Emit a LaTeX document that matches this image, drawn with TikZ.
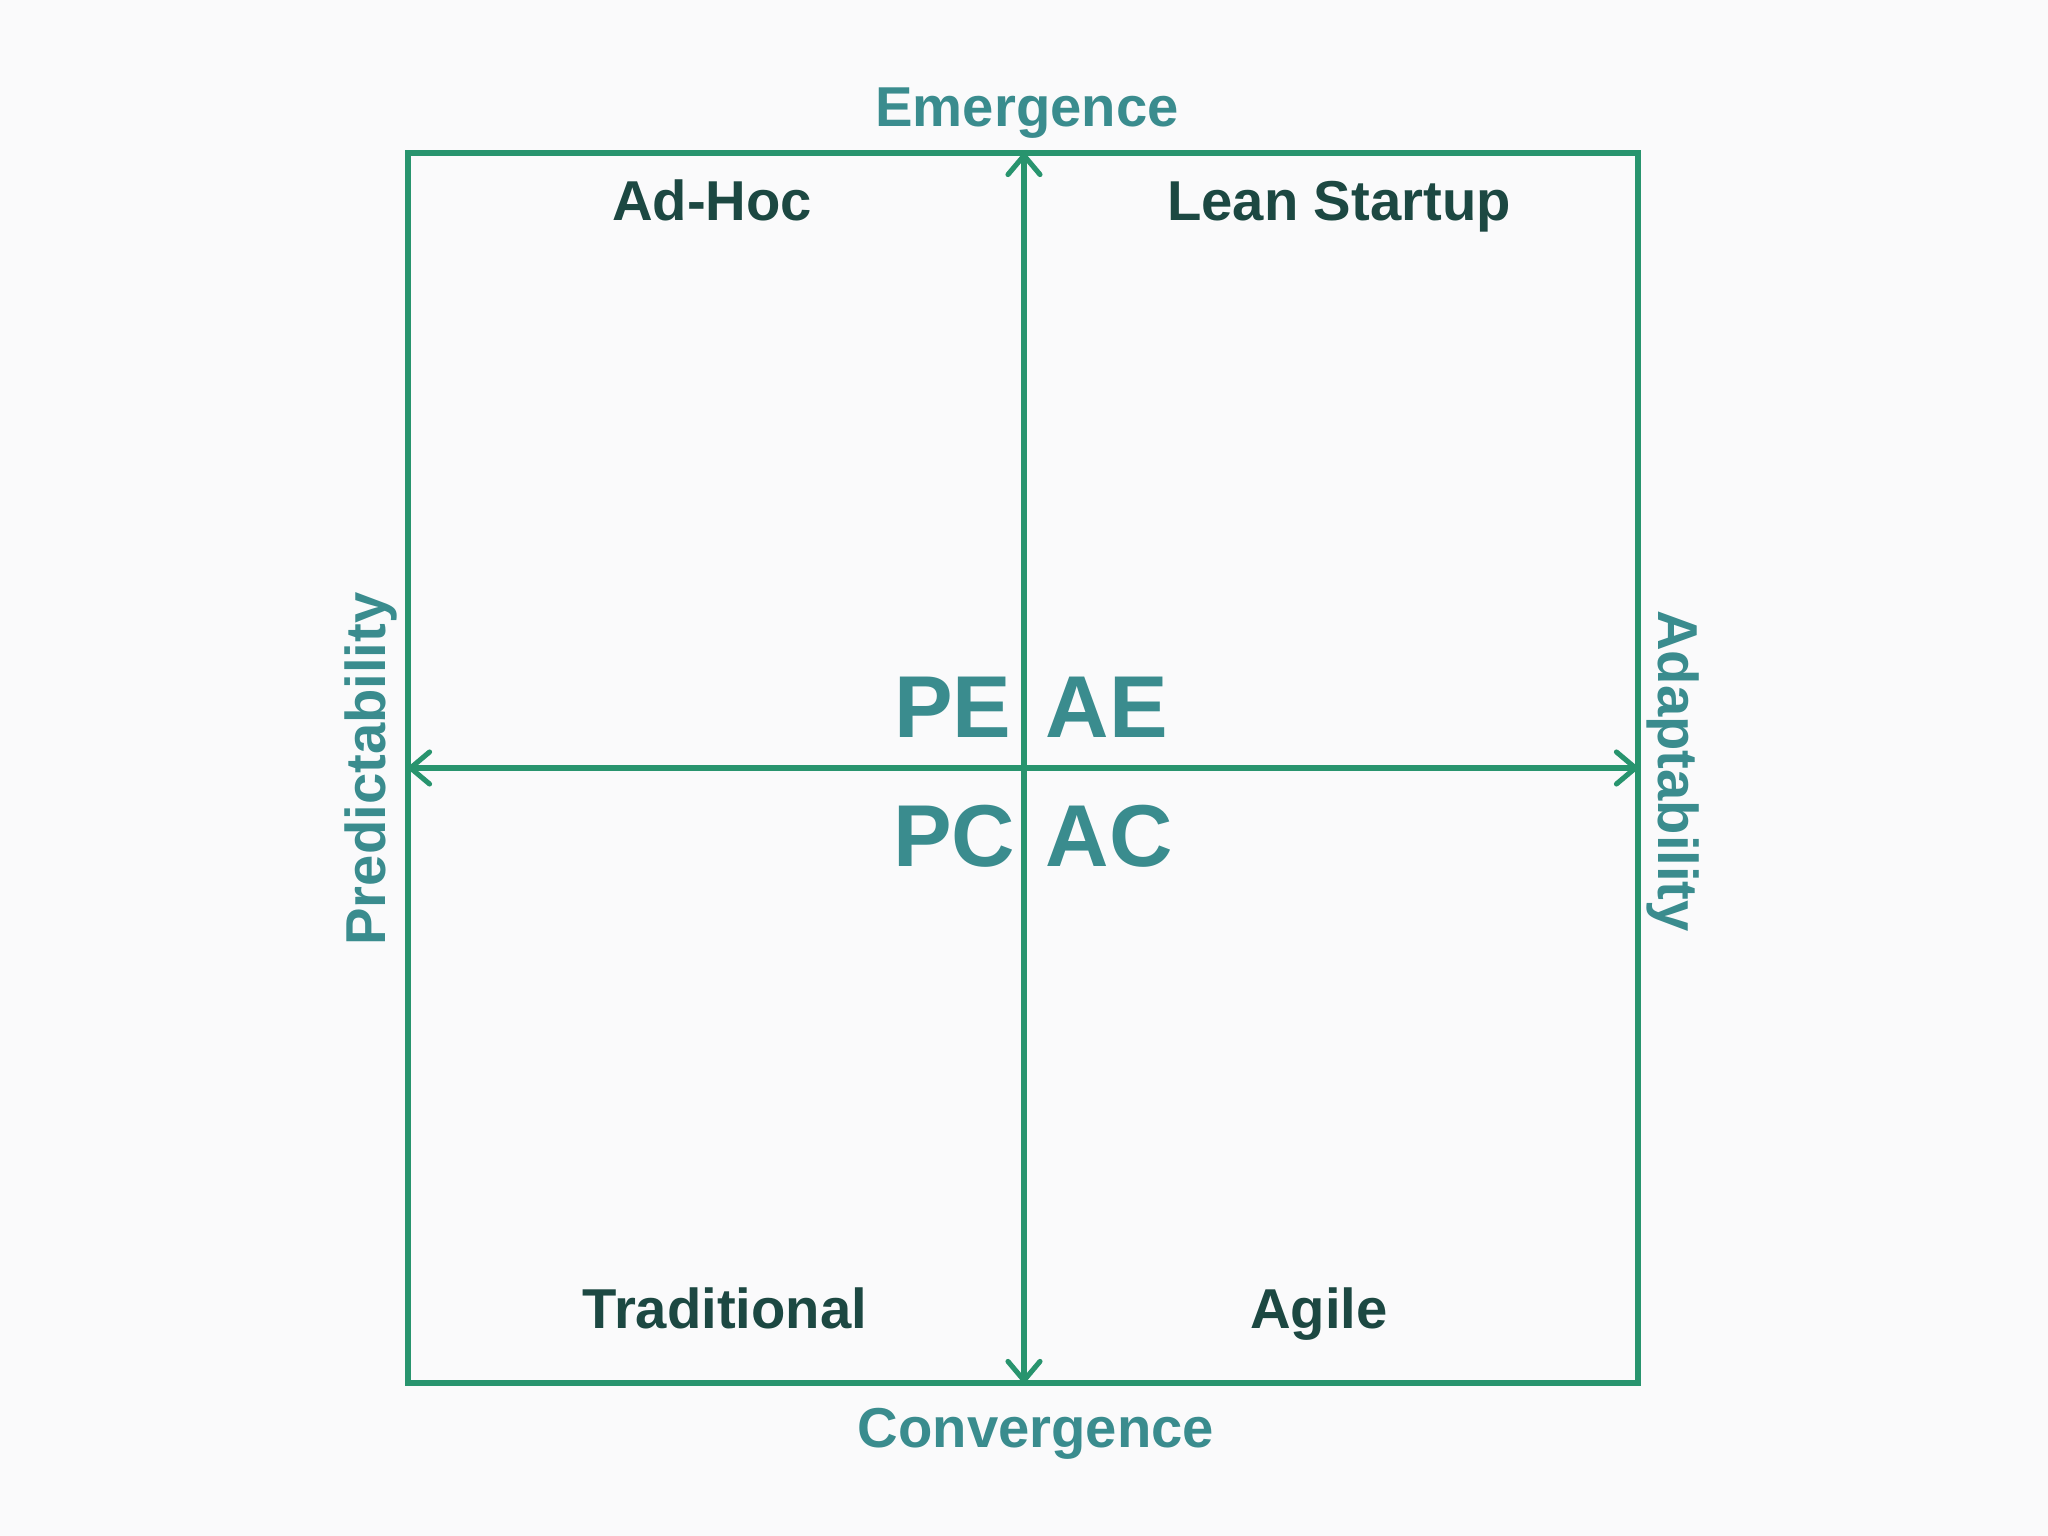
\documentclass[tikz,border=0pt]{standalone}
\usepackage{fontspec}
\setmainfont{Liberation Sans}
\usetikzlibrary{arrows.meta}

\definecolor{gridgreen}{RGB}{40,148,110}
\definecolor{axisteal}{RGB}{58,140,142}
\definecolor{quaddark}{RGB}{28,72,66}
\definecolor{paper}{RGB}{250,250,251}

\tikzset{
  axislabel/.style={text=axisteal,anchor=base,inner sep=0pt,
    font=\bfseries\fontsize{16}{19}\selectfont},
  quadlabel/.style={text=quaddark,anchor=base,inner sep=0pt,
    font=\bfseries\fontsize{16}{19}\selectfont},
  codelabel/.style={text=axisteal,inner sep=0pt,
    font=\bfseries\fontsize{25}{30}\selectfont},
  gridline/.style={gridgreen,line width=1.45pt},
  barb/.tip={Straight Barb[length=1.9mm,width=3.2mm,round]}
}

\begin{document}
\begin{tikzpicture}
  \fill[paper] (0,0) rectangle (20.48,15.36);
  \useasboundingbox (0,0) rectangle (20.48,15.36);

  \coordinate (mid) at (10.24,7.68);
  \coordinate (top) at (10.24,13.83);
  \coordinate (bot) at (10.24,1.53);
  \coordinate (lft) at (4.08,7.68);
  \coordinate (rgt) at (16.38,7.68);

  \draw[gridline] (4.08,1.53) rectangle (16.38,13.83);
  \draw[gridline,barb-barb] (top) -- (bot);
  \draw[gridline,barb-barb] (lft) -- (rgt);

  \node[axislabel] (emerge) at (10.27,14.09) {Emergence};
  \node[axislabel] (converge) at (10.36,0.88) {Convergence};
  \node[axislabel,rotate=90] (predict) at (3.85,7.67) {Predictability};
  \node[axislabel,rotate=-90] (adapt) at (16.58,7.65) {Adaptability};

  \foreach \x/\y/\name/\str in {7.12/13.15/adhoc/Ad-Hoc,
                                13.39/13.15/lean/Lean Startup,
                                7.25/2.07/trad/Traditional,
                                13.19/2.07/agile/Agile}
  {\node[quadlabel] (\name) at (\x,\y) {\str};
  }

  \node[codelabel,anchor=base east] (pe) at (10.12,7.98) {PE};
  \node[codelabel,anchor=base west] (ae) at (10.45,7.98) {AE};
  \node[codelabel,anchor=base east] (pc) at (10.16,6.69) {PC};
  \node[codelabel,anchor=base west] (ac) at (10.45,6.69) {AC};
\end{tikzpicture}
\end{document}
